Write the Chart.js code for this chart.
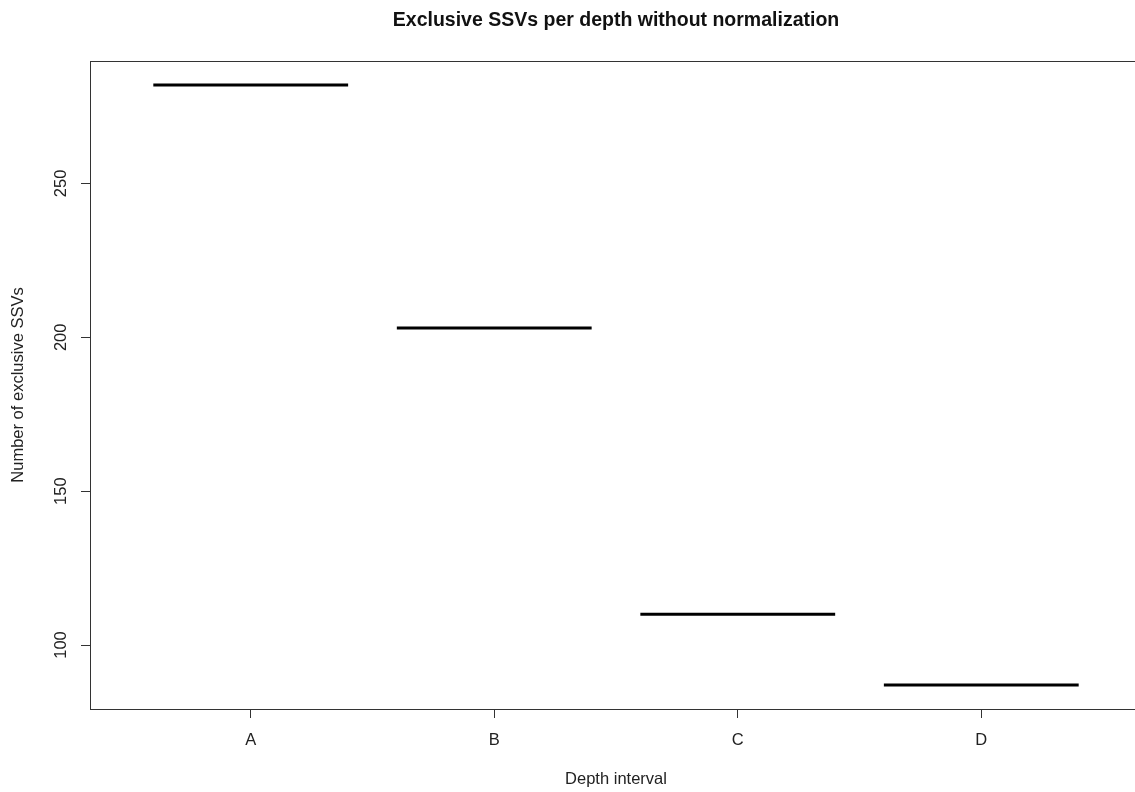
<!DOCTYPE html>
<html>
<head>
<meta charset="utf-8">
<script src="https://cdn.jsdelivr.net/npm/chart.js@4.4.1/dist/chart.umd.min.js"></script>
<style>
  html, body { margin: 0; padding: 0; background: #fff; overflow: hidden; }
  #wrap { width: 1232px; height: 792px; }
</style>
</head>
<body>
<div id="wrap"><canvas id="c" width="1232" height="792"></canvas></div>
<script>
// ---- data ----
const categories = ['A', 'B', 'C', 'D'];
const exclusiveSSVs = [282, 203, 110, 87];
const yTickValues = [100, 150, 200, 250];
const titleText = 'Exclusive SSVs per depth without normalization';
const xTitle = 'Depth interval';
const yTitle = 'Number of exclusive SSVs';

// ---- layout / style constants (R boxplot-like) ----
const HALF_WIDTH = 0.4;           // boxwex 0.8
const FONT = 'Liberation Sans, Arial, Helvetica, sans-serif';
const INK = '#222';

// R default axis extension (4%)
const xMinRaw = 0.5, xMaxRaw = categories.length + 0.5;
const xExt = (xMaxRaw - xMinRaw) * 0.04;
const yMinRaw = Math.min(...exclusiveSSVs), yMaxRaw = Math.max(...exclusiveSSVs);
const yExt = (yMaxRaw - yMinRaw) * 0.04;

const datasets = categories.map((c, i) => ({
  label: c,
  data: [
    { x: i + 1 - HALF_WIDTH, y: exclusiveSSVs[i] },
    { x: i + 1 + HALF_WIDTH, y: exclusiveSSVs[i] }
  ],
  borderColor: '#000',
  borderWidth: 3,
  borderCapStyle: 'butt',
  pointRadius: 0,
  fill: false,
  tension: 0
}));

const boxPlugin = {
  id: 'box',
  afterDraw(chart) {
    const { ctx, chartArea: a } = chart;
    ctx.save();
    ctx.strokeStyle = '#333';
    ctx.lineWidth = 1;
    ctx.strokeRect(Math.round(a.left) + 0.5, Math.round(a.top) + 0.5,
                   Math.round(a.right - a.left), Math.round(a.bottom - a.top));
    ctx.restore();
  }
};

new Chart(document.getElementById('c'), {
  type: 'line',
  data: { datasets },
  plugins: [boxPlugin],
  options: {
    responsive: false,
    animation: false,
    devicePixelRatio: 1,
    layout: { padding: 0 },
    plugins: {
      legend: { display: false },
      tooltip: { enabled: false },
      title: {
        display: true,
        text: titleText,
        color: '#111',
        font: { family: FONT, size: 19.5, weight: 'bold', lineHeight: 1.2 },
        padding: { top: 9, bottom: 28.6 }
      }
    },
    scales: {
      x: {
        type: 'linear',
        min: xMinRaw - xExt,
        max: xMaxRaw + xExt,
        afterBuildTicks(scale) {
          scale.ticks = categories.map((c, i) => ({ value: i + 1 }));
        },
        afterFit(scale) { scale.height = 83; },
        ticks: {
          callback: (v) => categories[Math.round(v) - 1] ?? '',
          color: INK,
          font: { family: FONT, size: 16.5 },
          padding: 13,
          maxRotation: 0,
          minRotation: 0,
          autoSkip: false
        },
        grid: { display: true, drawOnChartArea: false, drawTicks: true, tickLength: 9, color: '#333', lineWidth: 1 },
        border: { display: false },
        title: {
          display: true,
          text: xTitle,
          color: INK,
          font: { family: FONT, size: 16.5 },
          padding: { top: 0, bottom: 3 }
        }
      },
      y: {
        type: 'linear',
        position: 'left',
        min: yMinRaw - yExt,
        max: yMaxRaw + yExt,
        afterBuildTicks(scale) {
          scale.ticks = yTickValues.map(v => ({ value: v }));
        },
        afterFit(scale) { scale.width = 90; },
        ticks: {
          color: INK,
          font: { family: FONT, size: 16.5 },
          minRotation: 90,
          maxRotation: 90,
          crossAlign: 'center',
          padding: 5.5,
          autoSkip: false
        },
        grid: { display: true, drawOnChartArea: false, drawTicks: true, tickLength: 9, color: '#333', lineWidth: 1 },
        border: { display: false },
        title: {
          display: true,
          text: yTitle,
          color: INK,
          font: { family: FONT, size: 16.5 },
          padding: { top: 9, bottom: 0 }
        }
      },
      yRightMargin: {
        type: 'linear',
        position: 'right',
        min: 0,
        max: 1,
        afterFit(scale) { scale.width = 90; },
        ticks: { display: false },
        grid: { display: false },
        border: { display: false },
        title: { display: false }
      }
    }
  }
});
</script>
</body>
</html>
